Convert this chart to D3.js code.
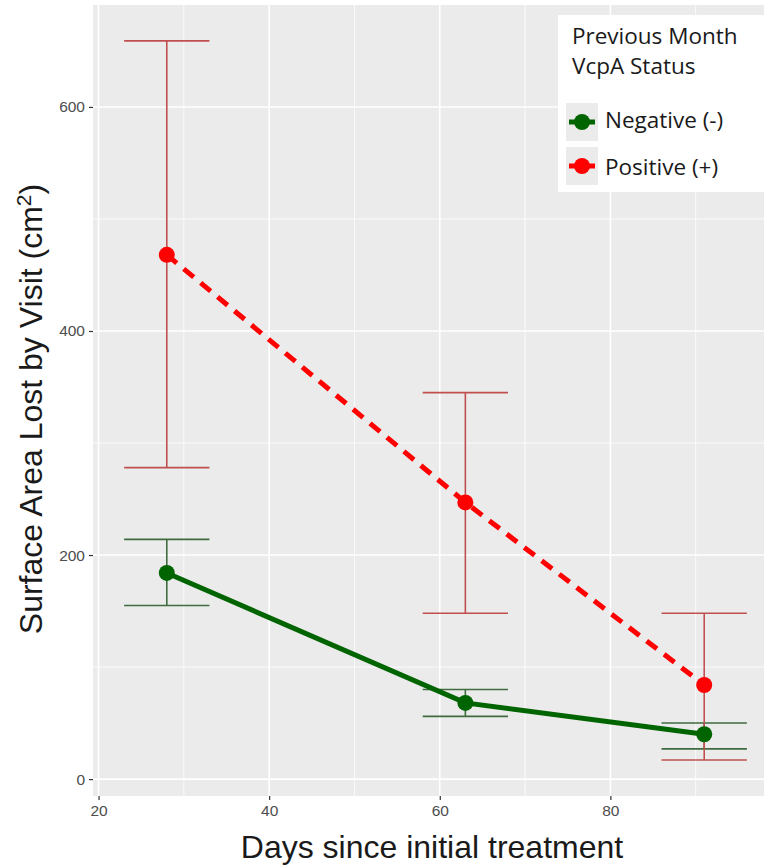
<!DOCTYPE html>
<html>
<head>
<meta charset="utf-8">
<script src="https://cdn.jsdelivr.net/npm/d3@7"></script>
<style>
  html, body { margin: 0; padding: 0; background: #ffffff; }
  svg { display: block; }
</style>
</head>
<body>
<svg id="chart" width="764" height="866"></svg>
<script>
// Visit day for each measurement
const days = [28, 63, 91];

// Mean surface area lost by visit (cm²) and error bar bounds, by previous-month VcpA status
const negativeMean  = [184, 68, 40];
const negativeLower = [155, 56, 27];
const negativeUpper = [214, 80, 50];

const positiveMean  = [468, 247, 84];
const positiveLower = [278, 148, 17];
const positiveUpper = [659, 345, 148];

const seriesNames = ["Negative (-)", "Positive (+)"];
const xTicks = [20, 40, 60, 80];
const yTicks = [0, 200, 400, 600];

const series = [
  { name: seriesNames[0], mean: negativeMean, lo: negativeLower, hi: negativeUpper,
    color: "#006400", barColor: "#3f6b3f", dash: null },
  { name: seriesNames[1], mean: positiveMean, lo: positiveLower, hi: positiveUpper,
    color: "#ff0000", barColor: "#c05050", dash: "13,9" }
];

const svg = d3.select("#chart");
const panel = { left: 93, top: 5, right: 778, bottom: 796 };

const x = d3.scaleLinear().domain([19.35, 99.65]).range([panel.left, panel.right]);
const y = d3.scaleLinear().domain([-15.1, 691]).range([panel.bottom, panel.top]);

// Panel background
svg.append("rect")
  .attr("x", panel.left).attr("y", panel.top)
  .attr("width", panel.right - panel.left).attr("height", panel.bottom - panel.top)
  .attr("fill", "#ebebeb");

const grid = svg.append("g");
// Minor gridlines
[30, 50, 70, 90].forEach(v => grid.append("line")
  .attr("x1", x(v)).attr("x2", x(v)).attr("y1", panel.top).attr("y2", panel.bottom)
  .attr("stroke", "#ffffff").attr("stroke-width", 0.8));
[100, 300, 500].forEach(v => grid.append("line")
  .attr("x1", panel.left).attr("x2", panel.right).attr("y1", y(v)).attr("y2", y(v))
  .attr("stroke", "#ffffff").attr("stroke-width", 0.8));
// Major gridlines
xTicks.forEach(v => grid.append("line")
  .attr("x1", x(v)).attr("x2", x(v)).attr("y1", panel.top).attr("y2", panel.bottom)
  .attr("stroke", "#ffffff").attr("stroke-width", 1.6));
yTicks.forEach(v => grid.append("line")
  .attr("x1", panel.left).attr("x2", panel.right).attr("y1", y(v)).attr("y2", y(v))
  .attr("stroke", "#ffffff").attr("stroke-width", 1.6));

// Axes
const xAxis = svg.append("g")
  .attr("transform", `translate(0,${panel.bottom})`)
  .call(d3.axisBottom(x).tickValues(xTicks).tickSize(4).tickPadding(5));
const yAxis = svg.append("g")
  .attr("transform", `translate(${panel.left},0)`)
  .call(d3.axisLeft(y).tickValues(yTicks).tickSize(4).tickPadding(4));
[xAxis, yAxis].forEach(a => {
  a.select(".domain").remove();
  a.selectAll(".tick line").attr("stroke", "#333333").attr("stroke-width", 1.2);
  a.selectAll(".tick text")
    .attr("fill", "#4d4d4d")
    .style("font-family", "'Liberation Sans', Arial, sans-serif")
    .style("font-size", "15.5px");
});

// Error bars
const capHalf = 5;
series.forEach(s => {
  const g = svg.append("g");
  days.forEach((d, i) => {
    g.append("line").attr("x1", x(d)).attr("x2", x(d))
      .attr("y1", y(s.lo[i])).attr("y2", y(s.hi[i]))
      .attr("stroke", s.barColor).attr("stroke-width", 1.6);
    [s.lo[i], s.hi[i]].forEach(v => g.append("line")
      .attr("x1", x(d - capHalf)).attr("x2", x(d + capHalf))
      .attr("y1", y(v)).attr("y2", y(v))
      .attr("stroke", s.barColor).attr("stroke-width", 1.6));
  });
});

// Mean lines and points
const line = d3.line().x((d, i) => x(days[i])).y(d => y(d));
series.forEach(s => {
  svg.append("path")
    .datum(s.mean)
    .attr("d", line)
    .attr("fill", "none")
    .attr("stroke", s.color)
    .attr("stroke-width", 5)
    .attr("stroke-dasharray", s.dash);
});
series.forEach(s => {
  svg.append("g").selectAll("circle")
    .data(s.mean)
    .join("circle")
    .attr("cx", (d, i) => x(days[i]))
    .attr("cy", d => y(d))
    .attr("r", 8)
    .attr("fill", s.color);
});

// Axis titles
svg.append("text")
  .attr("x", 432)
  .attr("y", 858)
  .attr("text-anchor", "middle")
  .attr("fill", "#1a1a1a")
  .style("font-family", "'Liberation Sans', Arial, sans-serif")
  .style("font-size", "32px")
  .text("Days since initial treatment");

const yTitle = svg.append("text")
  .attr("transform", "translate(42,409) rotate(-90)")
  .attr("text-anchor", "middle")
  .attr("fill", "#1a1a1a")
  .style("font-family", "'Liberation Sans', Arial, sans-serif")
  .style("font-size", "32px");
yTitle.append("tspan").text("Surface Area Lost by Visit (cm");
yTitle.append("tspan").attr("dy", -11).style("font-size", "21px").text("2");
yTitle.append("tspan").attr("dy", 11).text(")");

// Legend
const legend = svg.append("g").attr("transform", "translate(558,15)");
legend.append("rect").attr("width", 220).attr("height", 177).attr("fill", "#ffffff");
const legendFont = "'Open Sans', 'Noto Sans', sans-serif";
["Previous Month", "VcpA Status"].forEach((t, i) => legend.append("text")
  .attr("x", 14).attr("y", 29 + i * 30)
  .attr("fill", "#1a1a1a")
  .style("font-family", legendFont)
  .style("font-size", "22.5px")
  .text(t));
series.forEach((s, i) => {
  const ky = 88 + i * 44;
  const k = legend.append("g").attr("transform", `translate(8,${ky})`);
  k.append("rect").attr("width", 32).attr("height", 38).attr("fill", "#ebebeb");
  k.append("line").attr("x1", 3).attr("x2", 29).attr("y1", 19).attr("y2", 19)
    .attr("stroke", s.color).attr("stroke-width", 5);
  k.append("circle").attr("cx", 16).attr("cy", 19).attr("r", 8).attr("fill", s.color);
  legend.append("text")
    .attr("x", 47).attr("y", ky + 25 + i * 3)
    .attr("fill", "#1a1a1a")
    .style("font-family", legendFont)
    .style("font-size", "22.5px")
    .text(s.name);
});
</script>
</body>
</html>
